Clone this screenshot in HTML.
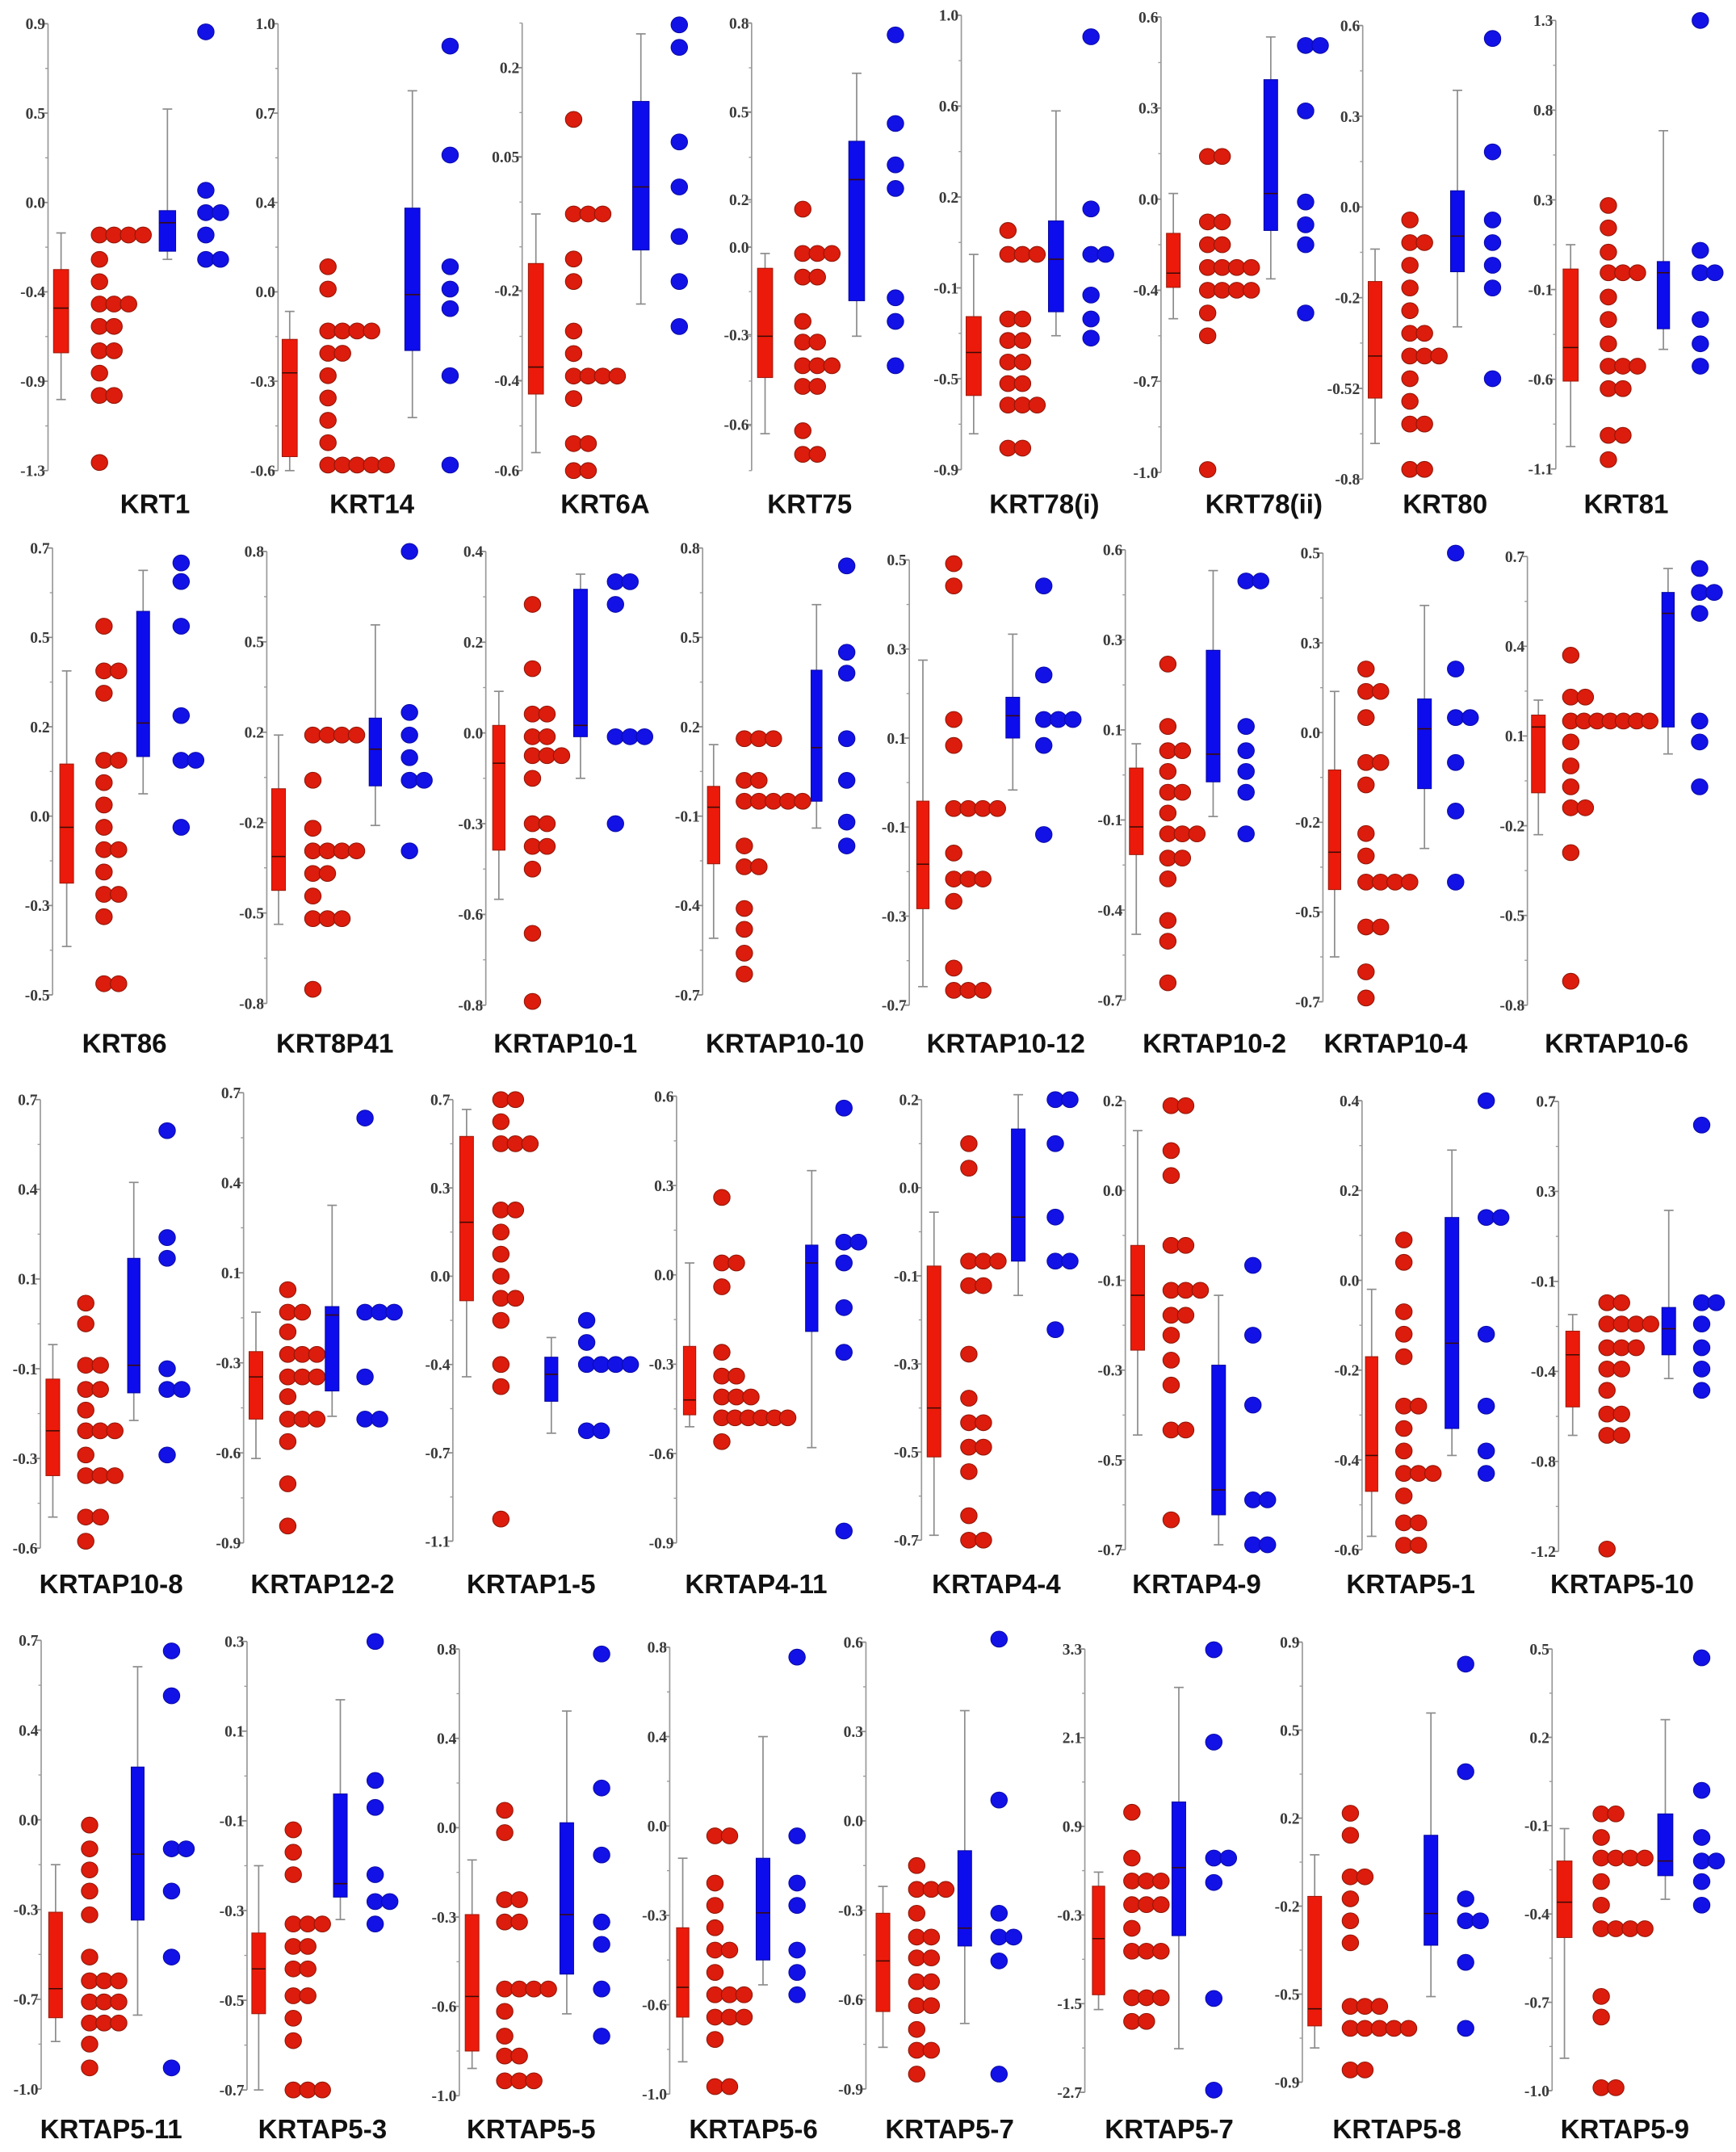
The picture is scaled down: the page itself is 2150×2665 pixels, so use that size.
<!DOCTYPE html>
<html>
<head>
<meta charset="utf-8">
<style>
html,body{margin:0;padding:0;background:#fff;}
svg{display:block;}
</style>
</head>
<body>
<svg id="chart" xmlns="http://www.w3.org/2000/svg" width="2150" height="2665" viewBox="0 0 1265 1568" preserveAspectRatio="none">
<rect x="0" y="0" width="1265" height="1568" fill="#ffffff"/>
</svg>
<script>
const panelNames = ["KRT1","KRT14","KRT6A","KRT75","KRT78(i)","KRT78(ii)","KRT80","KRT81",
"KRT86","KRT8P41","KRTAP10-1","KRTAP10-10","KRTAP10-12","KRTAP10-2","KRTAP10-4","KRTAP10-6",
"KRTAP10-8","KRTAP12-2","KRTAP1-5","KRTAP4-11","KRTAP4-4","KRTAP4-9","KRTAP5-1","KRTAP5-10",
"KRTAP5-11","KRTAP5-3","KRTAP5-5","KRTAP5-6","KRTAP5-7","KRTAP5-7","KRTAP5-8","KRTAP5-9"];

const yDomains = [[-1.3,0.9],[-0.6,1.0],[-0.6,0.394],[-0.715,0.8],[-0.9,1.0],[-1.0,0.6],[-0.8,0.6],[-1.1,1.3],
[-0.5,0.7],[-0.8,0.8],[-0.8,0.4],[-0.7,0.8],[-0.7,0.5],[-0.7,0.6],[-0.7,0.5],[-0.8,0.7],
[-0.6,0.7],[-0.9,0.7],[-1.1,0.7],[-0.9,0.6],[-0.7,0.2],[-0.7,0.2],[-0.6,0.4],[-1.2,0.7],
[-1.0,0.7],[-0.7,0.3],[-1.0,0.8],[-1.0,0.8],[-0.9,0.6],[-2.7,3.3],[-0.9,0.9],[-1.0,0.5]];

const tickLabels = [
["0.9","0.5","0.0","-0.4","-0.9","-1.3"],["1.0","0.7","0.4","0.0","-0.3","-0.6"],["0.2","0.05","-0.2","-0.4","-0.6"],["0.8","0.5","0.2","0.0","-0.3","-0.6"],
["1.0","0.6","0.2","-0.1","-0.5","-0.9"],["0.6","0.3","0.0","-0.4","-0.7","-1.0"],["0.6","0.3","0.0","-0.2","-0.52","-0.8"],["1.3","0.8","0.3","-0.1","-0.6","-1.1"],
["0.7","0.5","0.2","0.0","-0.3","-0.5"],["0.8","0.5","0.2","-0.2","-0.5","-0.8"],["0.4","0.2","0.0","-0.3","-0.6","-0.8"],["0.8","0.5","0.2","-0.1","-0.4","-0.7"],
["0.5","0.3","0.1","-0.1","-0.3","-0.7"],["0.6","0.3","0.1","-0.1","-0.4","-0.7"],["0.5","0.3","0.0","-0.2","-0.5","-0.7"],["0.7","0.4","0.1","-0.2","-0.5","-0.8"],
["0.7","0.4","0.1","-0.1","-0.3","-0.6"],["0.7","0.4","0.1","-0.3","-0.6","-0.9"],["0.7","0.3","0.0","-0.4","-0.7","-1.1"],["0.6","0.3","0.0","-0.3","-0.6","-0.9"],
["0.2","0.0","-0.1","-0.3","-0.5","-0.7"],["0.2","0.0","-0.1","-0.3","-0.5","-0.7"],["0.4","0.2","0.0","-0.2","-0.4","-0.6"],["0.7","0.3","-0.1","-0.4","-0.8","-1.2"],
["0.7","0.4","0.0","-0.3","-0.7","-1.0"],["0.3","0.1","-0.1","-0.3","-0.5","-0.7"],["0.8","0.4","0.0","-0.3","-0.6","-1.0"],["0.8","0.4","0.0","-0.3","-0.6","-1.0"],
["0.6","0.3","0.0","-0.3","-0.6","-0.9"],["3.3","2.1","0.9","-0.3","-1.5","-2.7"],["0.9","0.5","0.2","-0.2","-0.5","-0.9"],["0.5","0.2","-0.1","-0.4","-0.7","-1.0"]];

const tickValues = [null,null,[0.295,0.097,-0.2,-0.4,-0.6],[0.8,0.499,0.202,0.041,-0.255,-0.559],null,null,null,null,
null,null,null,null,null,null,null,null,null,null,null,null,null,null,null,null,null,null,null,null,null,null,null,null];

// box values: [whiskerLow, q1, median, q3, whiskerHigh]
const redBoxes = [[-0.95,-0.72,-0.5,-0.31,-0.13],[-0.6,-0.55,-0.25,-0.13,-0.03],[-0.56,-0.43,-0.37,-0.14,-0.03],[-0.59,-0.4,-0.26,-0.03,0.02],
[-0.75,-0.59,-0.41,-0.26,0.0],[-0.46,-0.35,-0.3,-0.16,-0.02],[-0.69,-0.55,-0.42,-0.19,-0.09],[-0.98,-0.63,-0.45,-0.03,0.1],
[-0.37,-0.2,-0.05,0.12,0.37],[-0.52,-0.4,-0.28,-0.04,0.15],[-0.52,-0.39,-0.16,-0.06,0.03],[-0.51,-0.26,-0.07,0.0,0.14],
[-0.65,-0.44,-0.32,-0.15,0.23],[-0.51,-0.28,-0.2,-0.03,0.04],[-0.58,-0.4,-0.3,-0.08,0.13],[-0.23,-0.09,0.13,0.17,0.22],
[-0.51,-0.39,-0.26,-0.11,-0.01],[-0.6,-0.46,-0.31,-0.22,-0.08],[-0.43,-0.12,0.2,0.55,0.66],[-0.51,-0.47,-0.42,-0.24,0.04],
[-0.69,-0.53,-0.43,-0.14,-0.03],[-0.47,-0.3,-0.19,-0.09,0.14],[-0.57,-0.47,-0.39,-0.17,-0.02],[-0.71,-0.59,-0.37,-0.27,-0.2],
[-0.82,-0.73,-0.62,-0.33,-0.15],[-0.7,-0.53,-0.43,-0.35,-0.2],[-0.89,-0.82,-0.6,-0.27,-0.05],[-0.87,-0.69,-0.57,-0.33,-0.05],
[-0.76,-0.64,-0.47,-0.31,-0.22],[-1.58,-1.38,-0.62,0.09,0.28],[-0.76,-0.67,-0.6,-0.14,0.03],[-0.89,-0.48,-0.36,-0.22,-0.11]];

const blueBoxes = [[-0.26,-0.22,-0.08,-0.02,0.48],[-0.41,-0.17,0.03,0.34,0.76],[-0.23,-0.11,0.03,0.22,0.37],[-0.26,-0.14,0.27,0.4,0.63],
[-0.34,-0.24,-0.02,0.14,0.6],[-0.32,-0.15,-0.02,0.38,0.53],[-0.33,-0.16,-0.05,0.09,0.4],[-0.46,-0.35,-0.05,0.01,0.71],
[0.04,0.14,0.23,0.53,0.64],[-0.17,-0.03,0.1,0.21,0.54],[-0.2,-0.09,-0.06,0.3,0.34],[-0.14,-0.05,0.13,0.39,0.61],
[-0.12,0.02,0.08,0.13,0.3],[-0.17,-0.07,0.01,0.31,0.54],[-0.29,-0.13,0.03,0.11,0.36],[0.04,0.13,0.51,0.58,0.66],
[-0.23,-0.15,-0.07,0.24,0.46],[-0.45,-0.36,-0.09,-0.06,0.3],[-0.66,-0.53,-0.42,-0.35,-0.27],[-0.58,-0.19,0.04,0.1,0.35],
[-0.2,-0.13,-0.04,0.14,0.21],[-0.69,-0.63,-0.58,-0.33,-0.19],[-0.39,-0.33,-0.14,0.14,0.29],[-0.47,-0.37,-0.26,-0.17,0.24],
[-0.72,-0.36,-0.11,0.22,0.6],[-0.32,-0.27,-0.24,-0.04,0.17],[-0.67,-0.51,-0.27,0.1,0.55],[-0.56,-0.46,-0.27,-0.05,0.44],
[-0.68,-0.42,-0.36,-0.1,0.37],[-2.11,-0.58,0.34,1.23,2.78],[-0.55,-0.34,-0.21,0.11,0.61],[-0.35,-0.27,-0.22,-0.06,0.26]];

// dot rows: [value, count]
const redDots = [
[[-0.14,4],[-0.26,1],[-0.37,1],[-0.48,3],[-0.59,2],[-0.71,2],[-0.82,1],[-0.93,2],[-1.26,1]],
[[0.13,1],[0.05,1],[-0.1,4],[-0.18,2],[-0.26,1],[-0.34,1],[-0.42,1],[-0.5,1],[-0.58,5]],
[[0.18,1],[-0.03,3],[-0.13,1],[-0.18,1],[-0.29,1],[-0.34,1],[-0.39,4],[-0.44,1],[-0.54,2],[-0.6,2]],
[[0.17,1],[0.02,3],[-0.06,2],[-0.21,1],[-0.28,2],[-0.36,3],[-0.43,2],[-0.58,1],[-0.66,2]],
[[0.1,1],[0.0,3],[-0.27,2],[-0.36,2],[-0.45,2],[-0.54,2],[-0.63,3],[-0.81,2]],
[[0.11,2],[-0.12,2],[-0.2,2],[-0.28,4],[-0.36,4],[-0.44,1],[-0.52,1],[-0.99,1]],
[[0.0,1],[-0.07,2],[-0.14,1],[-0.21,1],[-0.28,1],[-0.35,2],[-0.42,3],[-0.49,1],[-0.56,1],[-0.63,2],[-0.77,2]],
[[0.31,1],[0.19,1],[0.06,1],[-0.05,3],[-0.18,1],[-0.3,1],[-0.43,1],[-0.55,3],[-0.67,2],[-0.92,2],[-1.05,1]],
[[0.49,1],[0.37,2],[0.31,1],[0.13,2],[0.07,1],[0.01,1],[-0.05,1],[-0.11,2],[-0.17,1],[-0.23,2],[-0.29,1],[-0.47,2]],
[[0.15,4],[-0.01,1],[-0.18,1],[-0.26,4],[-0.34,2],[-0.42,1],[-0.5,3],[-0.75,1]],
[[0.26,1],[0.09,1],[-0.03,2],[-0.09,2],[-0.14,3],[-0.2,1],[-0.32,2],[-0.38,2],[-0.44,1],[-0.61,1],[-0.79,1]],
[[0.16,3],[0.02,2],[-0.05,5],[-0.2,1],[-0.27,2],[-0.41,1],[-0.48,1],[-0.56,1],[-0.63,1]],
[[0.49,1],[0.43,1],[0.07,1],[0.0,1],[-0.17,4],[-0.29,1],[-0.36,3],[-0.42,1],[-0.6,1],[-0.66,3]],
[[0.27,1],[0.09,1],[0.02,2],[-0.04,1],[-0.1,2],[-0.16,1],[-0.22,3],[-0.29,2],[-0.35,1],[-0.47,1],[-0.53,1],[-0.65,1]],
[[0.19,1],[0.13,2],[0.06,1],[-0.06,2],[-0.12,1],[-0.25,1],[-0.31,1],[-0.38,4],[-0.5,2],[-0.62,1],[-0.69,1]],
[[0.37,1],[0.23,2],[0.15,7],[0.08,1],[0.0,1],[-0.07,1],[-0.14,2],[-0.29,1],[-0.72,1]],
[[0.11,1],[0.05,1],[-0.07,2],[-0.14,2],[-0.2,1],[-0.26,3],[-0.33,1],[-0.39,3],[-0.51,2],[-0.58,1]],
[[0.0,1],[-0.08,2],[-0.15,1],[-0.23,3],[-0.31,3],[-0.38,1],[-0.46,3],[-0.54,1],[-0.69,1],[-0.84,1]],
[[0.7,2],[0.61,1],[0.52,3],[0.25,2],[0.16,1],[0.07,1],[-0.02,1],[-0.11,2],[-0.2,1],[-0.38,1],[-0.47,1],[-1.01,1]],
[[0.26,1],[0.04,2],[-0.04,1],[-0.26,1],[-0.34,2],[-0.41,3],[-0.48,6],[-0.56,1]],
[[0.11,1],[0.06,1],[-0.13,3],[-0.18,2],[-0.32,1],[-0.41,1],[-0.46,2],[-0.51,2],[-0.56,1],[-0.65,1],[-0.7,2]],
[[0.19,2],[0.1,1],[0.05,1],[-0.09,2],[-0.18,3],[-0.23,2],[-0.27,1],[-0.32,1],[-0.37,1],[-0.46,2],[-0.64,1]],
[[0.09,1],[0.04,1],[-0.07,1],[-0.12,1],[-0.17,1],[-0.28,2],[-0.33,1],[-0.38,1],[-0.43,3],[-0.48,1],[-0.54,2],[-0.59,2]],
[[-0.15,2],[-0.24,4],[-0.34,3],[-0.43,2],[-0.52,1],[-0.62,2],[-0.71,2],[-1.19,1]],
[[0.0,1],[-0.09,1],[-0.17,1],[-0.25,1],[-0.34,1],[-0.5,1],[-0.59,3],[-0.67,3],[-0.75,3],[-0.83,1],[-0.92,1]],
[[-0.12,1],[-0.17,1],[-0.22,1],[-0.33,3],[-0.38,2],[-0.43,2],[-0.49,2],[-0.54,1],[-0.59,1],[-0.7,3]],
[[0.15,1],[0.06,1],[-0.21,2],[-0.3,2],[-0.57,4],[-0.66,1],[-0.76,1],[-0.84,2],[-0.94,3]],
[[0.04,2],[-0.15,1],[-0.24,1],[-0.33,1],[-0.42,2],[-0.51,1],[-0.6,3],[-0.69,3],[-0.78,1],[-0.97,2]],
[[-0.15,1],[-0.23,3],[-0.31,1],[-0.39,2],[-0.46,2],[-0.54,2],[-0.62,2],[-0.7,1],[-0.77,2],[-0.85,1]],
[[1.09,1],[0.47,1],[0.16,3],[-0.16,3],[-0.48,1],[-0.79,3],[-1.42,3],[-1.74,2]],
[[0.2,1],[0.11,1],[-0.06,2],[-0.15,1],[-0.24,1],[-0.33,1],[-0.59,3],[-0.68,5],[-0.85,2]],
[[-0.06,2],[-0.14,1],[-0.21,4],[-0.29,1],[-0.37,1],[-0.45,4],[-0.68,1],[-0.75,1],[-0.99,2]]];

const blueDots = [
[[0.86,1],[0.08,1],[-0.03,2],[-0.14,1],[-0.26,2]],
[[0.92,1],[0.53,1],[0.13,1],[0.05,1],[-0.02,1],[-0.26,1],[-0.58,1]],
[[0.39,1],[0.34,1],[0.13,1],[0.03,1],[-0.08,1],[-0.18,1],[-0.28,1]],
[[0.76,1],[0.46,1],[0.32,1],[0.24,1],[-0.13,1],[-0.21,1],[-0.36,1]],
[[0.91,1],[0.19,1],[0.0,2],[-0.17,1],[-0.27,1],[-0.35,1]],
[[0.5,2],[0.27,1],[-0.05,1],[-0.13,1],[-0.2,1],[-0.44,1]],
[[0.56,1],[0.21,1],[0.0,1],[-0.07,1],[-0.14,1],[-0.21,1],[-0.49,1]],
[[1.3,1],[0.07,1],[-0.05,2],[-0.3,1],[-0.43,1],[-0.55,1]],
[[0.66,1],[0.61,1],[0.49,1],[0.25,1],[0.13,2],[-0.05,1]],
[[0.8,1],[0.23,1],[0.15,1],[0.07,1],[-0.01,2],[-0.26,1]],
[[0.32,2],[0.26,1],[-0.09,3],[-0.32,1]],
[[0.74,1],[0.45,1],[0.38,1],[0.16,1],[0.02,1],[-0.12,1],[-0.2,1]],
[[0.43,1],[0.19,1],[0.07,3],[0.0,1],[-0.24,1]],
[[0.51,2],[0.09,1],[0.02,1],[-0.04,1],[-0.1,1],[-0.22,1]],
[[0.5,1],[0.19,1],[0.06,2],[-0.06,1],[-0.19,1],[-0.38,1]],
[[0.66,1],[0.58,2],[0.51,1],[0.15,1],[0.08,1],[-0.07,1]],
[[0.61,1],[0.3,1],[0.24,1],[-0.08,1],[-0.14,2],[-0.33,1]],
[[0.61,1],[-0.08,3],[-0.31,1],[-0.46,2]],
[[-0.2,1],[-0.29,1],[-0.38,4],[-0.65,2]],
[[0.56,1],[0.11,2],[0.04,1],[-0.11,1],[-0.26,1],[-0.86,1]],
[[0.2,2],[0.11,1],[-0.04,1],[-0.13,2],[-0.27,1]],
[[-0.13,1],[-0.27,1],[-0.41,1],[-0.6,2],[-0.69,2]],
[[0.4,1],[0.14,2],[-0.12,1],[-0.28,1],[-0.38,1],[-0.43,1]],
[[0.6,1],[-0.15,2],[-0.24,1],[-0.34,1],[-0.43,1],[-0.52,1]],
[[0.66,1],[0.49,1],[-0.09,2],[-0.25,1],[-0.5,1],[-0.92,1]],
[[0.3,1],[-0.01,1],[-0.07,1],[-0.22,1],[-0.28,2],[-0.33,1]],
[[0.78,1],[0.24,1],[-0.03,1],[-0.3,1],[-0.39,1],[-0.57,1],[-0.76,1]],
[[0.76,1],[0.04,1],[-0.15,1],[-0.24,1],[-0.42,1],[-0.51,1],[-0.6,1]],
[[0.61,1],[0.07,1],[-0.31,1],[-0.39,2],[-0.47,1],[-0.85,1]],
[[3.29,1],[2.04,1],[0.47,2],[0.14,1],[-1.43,1],[-2.67,1]],
[[0.81,1],[0.37,1],[-0.15,1],[-0.24,2],[-0.41,1],[-0.68,1]],
[[0.47,1],[0.02,1],[-0.14,1],[-0.22,2],[-0.29,1],[-0.37,1]]];

// layout (pixel geometry, not data): [axisX, axisTop, axisBottom, redBoxX, redBoxW, redDotX, blueBoxX, blueBoxW, blueDotX, labelX, row]
const layout = [
[35,17.3,342.9,39,11,72.5,116,12,150,113,0],[202.6,17.3,342.9,205.6,11,239,295,11,328,271,0],
[380.5,16.8,342.9,385,11,418,461,12,495,441,0],[547.7,16.8,342.9,552,11,585,618.5,11.5,652.5,590,0],
[700.5,11.1,342.2,704,11,734.5,764,11,795,761,0],[846,12.4,344.2,850,10,880,921,10,951.4,921,0],
[993,18.6,349.1,997,10,1027.4,1057,10,1087.6,1053,0],[1133.7,14.9,341.7,1139,11,1172,1207.6,9,1239,1185,0],
[38.3,399.3,724.9,43.6,10,75.8,99.6,9.4,132,90.7,1],[194.4,401.8,731.1,198,10,228,269,9,298.4,244,1],
[354,401.8,732.4,359,9,388,418,10,448.5,412,1],[512,399.3,724.9,515.5,9,542.4,591,8,617,572,1],
[662.6,408,732.4,668,9,695,733,10,760.6,733,1],[820,400.6,728.7,823,10,851,879,10,908,885,1],
[964,403,729.9,968,9,995.4,1033,10,1060.7,1017,1],[1113,405.5,732.4,1116,10,1144.6,1211,9,1238.5,1178,1],
[29.4,801.2,1128,33.5,10,62.5,93,9,121.8,81,2],[177.5,796.2,1124.2,181.5,10,209.7,237,10,266,235,2],
[330,801.2,1122.9,335,10,365,397,9.5,427.5,387,2],[493,798.7,1124.2,498,9,526,587,9,615,551,2],
[671.5,801.2,1122.2,675.6,10,706,737,10,769,726,2],[820,802,1129.2,824,10,853.4,883,10,913,872,2],
[992.5,802,1129.2,995,9,1023,1053,10,1083,1028,2],[1135.7,802.5,1130.4,1141,10,1171,1211,10,1240,1182,2],
[30,1195.2,1522.1,35.5,10,65.3,95.6,9.4,125,81,3],[180,1196,1522.8,183.5,10,213.7,243,10,273.4,235,3],
[334.7,1201.5,1527,339,10,367.8,408,10,438.4,387,3],[488,1200.2,1525.8,493,9,521,551,10,580.8,549,3],
[631,1196.5,1522.1,638.4,10,668,698,10,728,692,3],[790.5,1201.5,1524.5,796,9,824.8,854,10,884.5,852,3],
[949,1196.5,1517.1,953,10,984,1037.7,10,1068,1018,3],[1131,1201.5,1523.3,1134.5,11,1166.8,1208,11,1240,1184,3]];
const labelBaselines = [374, 767, 1161, 1558];

const NS = "http://www.w3.org/2000/svg";
const svg = document.getElementById("chart");

function mk(tag, attrs, parent) {
  const el = document.createElementNS(NS, tag);
  for (const k in attrs) el.setAttribute(k, attrs[k]);
  parent.appendChild(el);
  return el;
}

function yScale(p, v) {
  const lo = yDomains[p][0], hi = yDomains[p][1];
  const L = layout[p];
  return L[1] + (hi - v) / (hi - lo) * (L[2] - L[1]);
}

function drawBox(g, p, box, x, w, fill, stroke, kind) {
  const cx = x + w / 2;
  const yLo = yScale(p, box[0]), yQ1 = yScale(p, box[1]), yMed = yScale(p, box[2]), yQ3 = yScale(p, box[3]), yHi = yScale(p, box[4]);
  const wh = mk("line", {x1: cx, x2: cx, y1: yHi, y2: yLo, stroke: "#8c8c8c", "stroke-width": 1}, g);
  
  
  const c1 = mk("line", {x1: cx - 3.5, x2: cx + 3.5, y1: yHi, y2: yHi, stroke: "#8c8c8c", "stroke-width": 1}, g);
  
  
  const c2 = mk("line", {x1: cx - 3.5, x2: cx + 3.5, y1: yLo, y2: yLo, stroke: "#8c8c8c", "stroke-width": 1}, g);
  
  
  const r = mk("rect", {x: x, y: yQ3, width: w, height: Math.max(1, yQ1 - yQ3), fill: fill, stroke: stroke, "stroke-width": 0.6}, g);
  
  
  const m = mk("line", {x1: x, x2: x + w, y1: yMed, y2: yMed, stroke: "#3a0a05", "stroke-width": 0.9}, g);
  
  
}

function drawDots(g, p, rows, x0, fill, stroke, kind) {
  rows.forEach(function (row) {
    const y = yScale(p, row[0]);
    const n = row[1];
    const sp = n >= 6 ? 9.6 : 10.6;
    for (let i = 0; i < n; i++) {
      const c = mk("ellipse", {cx: x0 + i * sp, cy: y, rx: 6, ry: 5.8, fill: fill, stroke: stroke, "stroke-width": 0.6}, g);
      
      
    }
  });
}

for (let p = 0; p < panelNames.length; p++) {
  const L = layout[p];
  const g = mk("g", {}, svg);
  
  

  const ax = L[0];
  const axis = mk("line", {x1: ax, x2: ax, y1: L[1], y2: L[2], stroke: "#9a9a9a", "stroke-width": 1}, g);
  
  

  const labels = tickLabels[p];
  const lo = yDomains[p][0], hi = yDomains[p][1];
  let vals = tickValues[p];
  if (!vals) {
    vals = labels.map(function (_, i) { return hi - i * (hi - lo) / (labels.length - 1); });
  }
  // minor ticks
  const nMinor = 10;
  for (let k = 0; k <= nMinor; k++) {
    const yy = L[1] + k * (L[2] - L[1]) / nMinor;
    const mt = mk("line", {x1: ax - 2, x2: ax, y1: yy, y2: yy, stroke: "#9a9a9a", "stroke-width": 0.8}, g);
    
    
  }
  vals.forEach(function (v, i) {
    const yy = yScale(p, v);
    const t = mk("line", {x1: ax - 3.5, x2: ax, y1: yy, y2: yy, stroke: "#8a8a8a", "stroke-width": 1}, g);
    
    
    const tx = mk("text", {x: ax - 2, y: yy + 4, "text-anchor": "end", "font-family": "'Liberation Serif', serif", "font-weight": "bold", "font-size": "11.5", fill: "#3a3a3a"}, g);
    tx.textContent = labels[i];
    
    
  });

  drawBox(g, p, redBoxes[p], L[3], L[4], "#ec1a0a", "#9b1a0c", "red");
  drawDots(g, p, redDots[p], L[5], "#dc1c0c", "#8c1608", "red");
  drawBox(g, p, blueBoxes[p], L[6], L[7], "#0c0cec", "#0808a0", "blue");
  drawDots(g, p, blueDots[p], L[8], "#1212e6", "#0a0aa8", "blue");

  const lab = mk("text", {x: L[9], y: labelBaselines[L[10]], "text-anchor": "middle", "font-family": "'Liberation Sans', Arial, sans-serif", "font-weight": "bold", "font-size": "19.5", fill: "#111"}, g);
  lab.textContent = panelNames[p];
  
  
}
</script>
</body>
</html>
